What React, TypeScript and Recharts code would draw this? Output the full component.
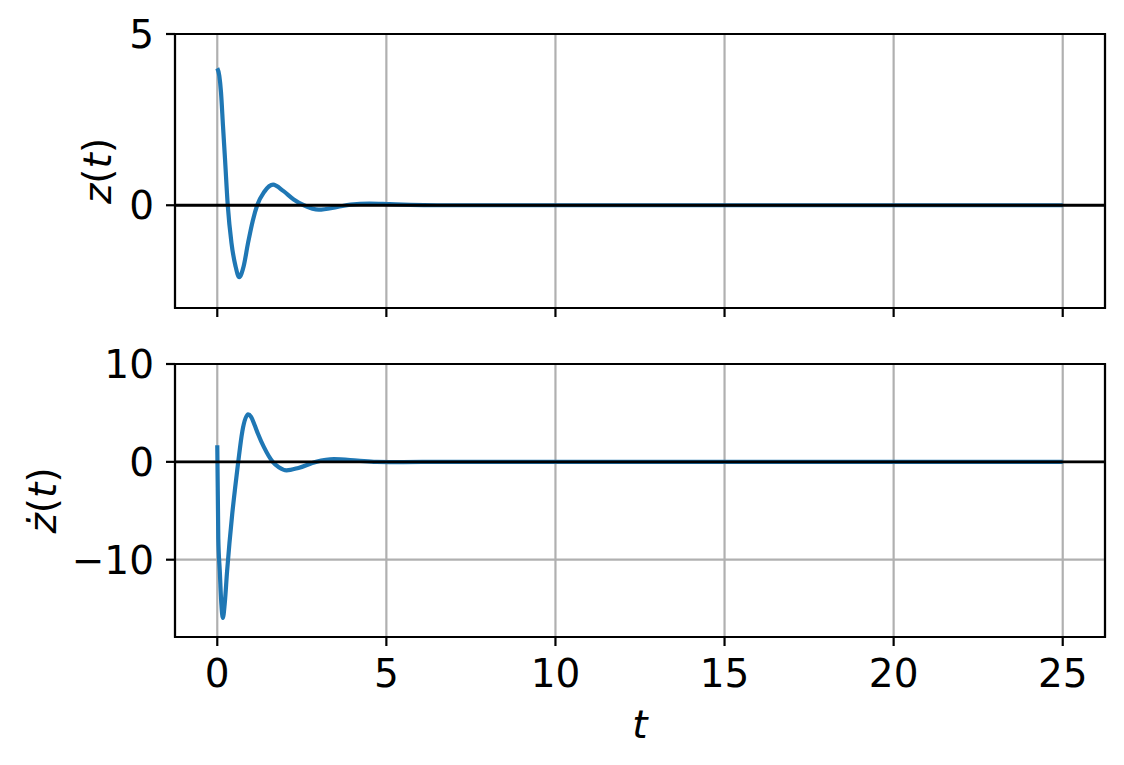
import { LineChart, Line, XAxis, YAxis, CartesianGrid, ReferenceLine, ReferenceArea } from 'recharts'

// z(t)
const zTimes = [0, 0.06, 0.11, 0.17, 0.23, 0.31, 0.42, 0.54, 0.65, 0.78, 0.91, 1.05, 1.18, 1.38, 1.65, 1.95, 2.26, 2.56, 3.0, 3.55, 3.94, 4.5, 5.1, 5.7, 6.5, 10, 15, 20, 25]
const zValues = [4.0, 3.78, 3.3, 2.3, 1.33, 0.0, -1.1, -1.78, -2.1, -1.78, -1.1, -0.45, 0.0, 0.38, 0.6, 0.42, 0.17, 0.0, -0.13, -0.05, 0.02, 0.05, 0.03, 0.01, 0.0, 0, 0, 0, 0]

// dz/dt
const zdTimes = [0, 0.03, 0.075, 0.12, 0.165, 0.22, 0.29, 0.36, 0.44, 0.53, 0.62, 0.74, 0.91, 1.0, 1.1, 1.2, 1.38, 1.64, 1.82, 2.05, 2.4, 2.92, 3.45, 4.14, 4.7, 5.5, 6.5, 10, 15, 20, 25]
const zdValues = [1.7, -7.8, -11.2, -14.5, -15.95, -14.5, -11.2, -8.3, -5.4, -2.6, 0.0, 3.1, 4.85, 4.6, 3.8, 2.9, 1.5, 0.0, -0.55, -0.87, -0.62, 0.0, 0.27, 0.13, 0.0, -0.03, 0, 0, 0, 0, 0]

const xTicks = [0, 5, 10, 15, 20, 25]
const zTicks = [0, 5]
const zdTicks = [-10, 0, 10]

const X_DOMAIN: [number, number] = [-1.25, 26.25]
const Z_DOMAIN: [number, number] = [-3, 5]
const ZD_DOMAIN: [number, number] = [-17.9, 10]

const zData = zTimes.map((t, i) => ({ t, v: zValues[i] }))
const zdData = zdTimes.map((t, i) => ({ t, v: zdValues[i] }))

const FONT = 'DejaVu Sans'
const FS = 39
const tickStyle = { fontSize: FS, fill: '#000', fontFamily: FONT }

function YLabel({ viewBox, cx, dotted }: any) {
  const cy = viewBox.y + viewBox.height / 2
  return (
    <text
      x={cx}
      y={cy}
      transform={`rotate(-90, ${cx}, ${cy})`}
      textAnchor="middle"
      dominantBaseline="central"
      fontSize={FS}
      fontFamily={FONT}
      fill="#000"
    >
      <tspan fontStyle="italic">{dotted ? 'ż' : 'z'}</tspan>
      <tspan>(</tspan>
      <tspan fontStyle="italic">t</tspan>
      <tspan>)</tspan>
    </text>
  )
}

function XLabel({ viewBox }: any) {
  return (
    <text
      x={viewBox.x + viewBox.width / 2}
      y={viewBox.y + 101}
      textAnchor="middle"
      fontSize={FS}
      fontFamily={FONT}
      fontStyle="italic"
      fill="#000"
    >
      t
    </text>
  )
}

// shared x axis: the top panel keeps its tick marks but drops the numbers
const NoTickText = () => <g />

export default function App() {
  return (
    <div style={{ position: 'absolute', left: 0, top: 0, width: 1124, height: 765, background: '#fff' }}>
      {/* z(t) */}
      <div style={{ position: 'absolute', left: 0, top: 0 }}>
        <LineChart width={1124} height={340} data={zData} margin={{ top: 34, right: 19, bottom: 0, left: 0 }}>
          <CartesianGrid stroke="#b0b0b0" strokeWidth={2.2} />
          <XAxis
            type="number"
            dataKey="t"
            domain={X_DOMAIN}
            ticks={xTicks}
            allowDataOverflow
            height={32}
            axisLine={false}
            tickSize={9}
            tickLine={{ stroke: '#000', strokeWidth: 2.2 }}
            tick={NoTickText}
          />
          <YAxis
            type="number"
            domain={Z_DOMAIN}
            ticks={zTicks}
            allowDataOverflow
            width={175}
            axisLine={false}
            tickSize={9}
            tickMargin={12}
            tickLine={{ stroke: '#000', strokeWidth: 2.2 }}
            tick={tickStyle}
            label={<YLabel cx={97} />}
          />
          <Line type="monotone" dataKey="v" stroke="#1f77b4" strokeWidth={4.2} dot={false} isAnimationActive={false} />
          <ReferenceLine y={0} stroke="#000" strokeWidth={2.8} />
          <ReferenceArea x1={X_DOMAIN[0]} x2={X_DOMAIN[1]} y1={Z_DOMAIN[0]} y2={Z_DOMAIN[1]} fill="none" fillOpacity={0} stroke="#000" strokeWidth={2.2} />
        </LineChart>
      </div>

      {/* dz/dt */}
      <div style={{ position: 'absolute', left: 0, top: 340 }}>
        <LineChart width={1124} height={425} data={zdData} margin={{ top: 24, right: 19, bottom: 68, left: 0 }}>
          <CartesianGrid stroke="#b0b0b0" strokeWidth={2.2} />
          <XAxis
            type="number"
            dataKey="t"
            domain={X_DOMAIN}
            ticks={xTicks}
            allowDataOverflow
            height={60}
            axisLine={false}
            tickSize={9}
            tickMargin={13}
            tickLine={{ stroke: '#000', strokeWidth: 2.2 }}
            tick={tickStyle}
            label={<XLabel />}
          />
          <YAxis
            type="number"
            domain={ZD_DOMAIN}
            ticks={zdTicks}
            allowDataOverflow
            width={175}
            axisLine={false}
            tickSize={9}
            tickMargin={12}
            tickLine={{ stroke: '#000', strokeWidth: 2.2 }}
            tick={tickStyle}
            tickFormatter={(v: number) => (v < 0 ? `\u2212${Math.abs(v)}` : `${v}`)}
            label={<YLabel cx={42} dotted />}
          />
          <Line type="monotone" dataKey="v" stroke="#1f77b4" strokeWidth={4.2} dot={false} isAnimationActive={false} />
          <ReferenceLine y={0} stroke="#000" strokeWidth={2.8} />
          <ReferenceArea x1={X_DOMAIN[0]} x2={X_DOMAIN[1]} y1={ZD_DOMAIN[0]} y2={ZD_DOMAIN[1]} fill="none" fillOpacity={0} stroke="#000" strokeWidth={2.2} />
        </LineChart>
      </div>
    </div>
  )
}
